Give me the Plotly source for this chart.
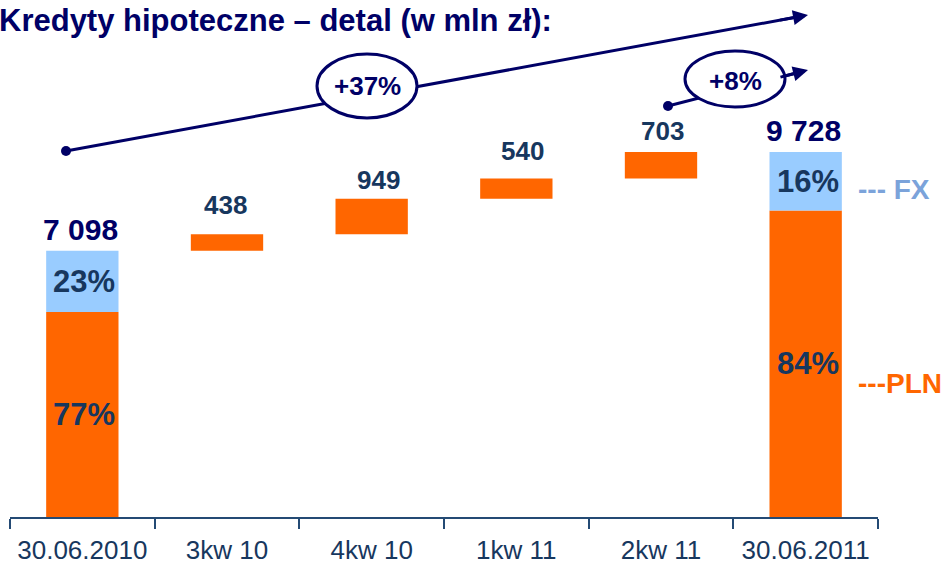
import numpy as np
import plotly.graph_objects as go

# ---------------- data ----------------
categories = ["30.06.2010", "3kw 10", "4kw 10", "1kw 11", "2kw 11", "30.06.2011"]
totals = [7098, 9728]              # balance at start / end (mln zł)
total_labels = ["7 098", "9 728"]
pln_share = [77, 84]               # % PLN
fx_share = [23, 16]                # % FX
changes = [438, 949, 540, 703]     # quarterly increments
change_labels = ["438", "949", "540", "703"]
growth_labels = ["+37%", "+8%"]

# ---------------- style ----------------
ORANGE = "#FF6600"
LIGHTBLUE = "#99CCFF"
NAVY = "#000066"
DARK = "#17375E"
FXC = "#7BA3DA"
FONT = "Liberation Sans, Arial, sans-serif"

W, H = 947, 564
L, R, T, B = 10, 69, 0, 47
PW, PH = W - L - R, H - T - B


def px(x):
    return (x - L) / PW


def py(y):
    return (T + PH - y) / PH


end_cats = [categories[0], categories[-1]]
pln_vals = [t * s / 100 for t, s in zip(totals, pln_share)]
fx_vals = [t * s / 100 for t, s in zip(totals, fx_share)]
ends = totals[0] + np.cumsum(changes)
bases = ends - np.array(changes)
ymax = totals[1] * PH / (517 - 152)

fig = go.Figure()
fig.add_trace(go.Bar(x=end_cats, y=pln_vals, width=0.5, marker=dict(color=ORANGE, line_width=0),
                     hoverinfo="skip"))
fig.add_trace(go.Bar(x=end_cats, y=fx_vals, base=pln_vals, width=0.5,
                     marker=dict(color=LIGHTBLUE, line_width=0), hoverinfo="skip"))
fig.add_trace(go.Bar(x=categories[1:5], y=changes, base=bases, width=0.5,
                     marker=dict(color=ORANGE, line_width=0), hoverinfo="skip"))

ann = []
# totals
for c, t, lab in zip(end_cats, totals, total_labels):
    ann.append(dict(x=c, y=t, text=f"<b>{lab}</b>", showarrow=False, yanchor="bottom",
                    yshift=3, xshift=-2, font=dict(family=FONT, size=30, color=NAVY)))
# percentages
for c, p, f, ps, fs in zip(end_cats, pln_vals, fx_vals, pln_share, fx_share):
    ann.append(dict(x=c, y=p / 2, text=f"<b>{ps}%</b>", showarrow=False, yanchor="middle",
                    xshift=2, font=dict(family=FONT, size=31, color=DARK)))
    ann.append(dict(x=c, y=p + f / 2, text=f"<b>{fs}%</b>", showarrow=False, yanchor="middle",
                    xshift=2, font=dict(family=FONT, size=31, color=DARK)))
# change labels
gaps = [12, 2, 10, 4]
xsh = [-2, 7, 6, 1]
for i, (e, lab) in enumerate(zip(ends, change_labels)):
    ann.append(dict(x=categories[i + 1], y=e, text=f"<b>{lab}</b>", showarrow=False,
                    yanchor="bottom", yshift=gaps[i], xshift=xsh[i],
                    font=dict(family=FONT, size=26, color=DARK)))
# legend-like labels
ann.append(dict(xref="paper", yref="paper", x=px(856), y=py(189), text="<b>--- FX</b>",
                showarrow=False, xanchor="left", yanchor="middle",
                font=dict(family=FONT, size=28, color=FXC)))
ann.append(dict(xref="paper", yref="paper", x=px(856), y=py(383), text="<b>---PLN</b>",
                showarrow=False, xanchor="left", yanchor="middle",
                font=dict(family=FONT, size=28, color=ORANGE)))
# title
ann.append(dict(xref="paper", yref="paper", x=px(-2), y=py(39), text="<b>Kredyty hipoteczne – detal (w mln zł):</b>",
                showarrow=False, xanchor="left", yanchor="bottom", borderpad=0,
                font=dict(family=FONT, size=31, color=NAVY)))

# growth arrows
arrows = [
    dict(start=(66, 151), tip=(808, 15), ell=(367, 86, 50, 32), txt=(367, 86)),
    dict(start=(668, 106), tip=(808, 70), ell=(735, 79, 50, 28), txt=(735, 81)),
]
shapes = []
for a, lab in zip(arrows, growth_labels):
    (x0, y0), (x1, y1) = a["start"], a["tip"]
    d = np.array([x1 - x0, y1 - y0], float)
    u = d / np.linalg.norm(d)
    ex, ey = x1 - 10 * u[0], y1 - 10 * u[1]
    shapes.append(dict(type="line", xref="paper", yref="paper", x0=px(x0), y0=py(y0),
                       x1=px(ex), y1=py(ey), line=dict(color=NAVY, width=3)))
    shapes.append(dict(type="circle", xref="paper", yref="paper", x0=px(x0 - 5), x1=px(x0 + 5),
                       y0=py(y0 - 5), y1=py(y0 + 5), fillcolor=NAVY, line=dict(color=NAVY, width=0)))
    cx, cy, rx, ry = a["ell"]
    shapes.append(dict(type="circle", xref="paper", yref="paper", x0=px(cx - rx), x1=px(cx + rx),
                       y0=py(cy - ry), y1=py(cy + ry), fillcolor="white",
                       line=dict(color=NAVY, width=3)))
    ann.append(dict(xref="paper", yref="paper", x=px(a["txt"][0]), y=py(a["txt"][1]),
                    text=f"<b>{lab}</b>", showarrow=False, xanchor="center", yanchor="middle",
                    font=dict(family=FONT, size=26, color=NAVY)))
    ann.append(dict(xref="paper", yref="paper", x=px(x1), y=py(y1), text="", showarrow=True,
                    ax=-30 * u[0], ay=-30 * u[1], arrowhead=2, arrowsize=1, arrowwidth=3,
                    arrowcolor=NAVY, standoff=0))

fig.update_layout(
    width=W, height=H, margin=dict(l=L, r=R, t=T, b=B, autoexpand=False),
    barmode="overlay", showlegend=False,
    plot_bgcolor="white", paper_bgcolor="white",
    xaxis=dict(type="category", categoryorder="array", categoryarray=categories,
               range=[-0.5, 5.5], showgrid=False, zeroline=False, showline=True,
               linecolor="#244A74", linewidth=1.5, ticks="outside", tickson="boundaries",
               ticklen=10, tickwidth=1.5, tickcolor="#244A74", ticklabelstandoff=9,
               tickfont=dict(family=FONT, size=26, color=DARK), automargin=False,
               fixedrange=True),
    yaxis=dict(visible=False, range=[0, ymax], fixedrange=True),
    annotations=ann, shapes=shapes,
)

fig.write_html("out.html", config={"displayModeBar": False},
               post_script="document.body.style.margin='0';document.body.style.overflow='hidden';")
